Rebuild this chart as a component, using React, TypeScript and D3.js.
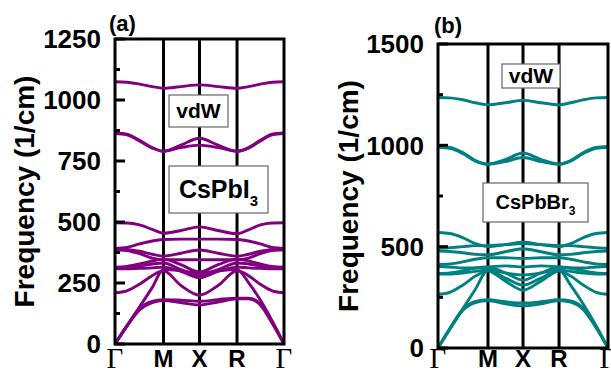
import React from "react";
import * as d3 from "d3";

// k-path sample positions (fraction of the path) for each panel
const kPathA = [0, 0.07, 0.145, 0.22, 0.287, 0.39, 0.5, 0.61, 0.722, 0.79, 0.86, 0.93, 1];
const kPathB = [0, 0.07, 0.145, 0.22, 0.294, 0.397, 0.5, 0.606, 0.712, 0.78, 0.856, 0.93, 1];

const symLabels = ["Γ", "M", "X", "R", "Γ"];
const symPosA = [0, 0.287, 0.5, 0.722, 1];
const symPosB = [0, 0.294, 0.5, 0.712, 1];

const majorTicksA = [0, 250, 500, 750, 1000, 1250];
const minorTicksA = [125, 375, 625, 875, 1125];
const majorTicksB = [0, 500, 1000, 1500];
const minorTicksB = [250, 750, 1250];

// CsPbI3 phonon bands (1/cm)
const bandsCsPbI3 = [
  [1075, 1073, 1065, 1055, 1048, 1055, 1062, 1055, 1048, 1055, 1065, 1073, 1075],
  [865, 860, 835, 805, 790, 815, 843, 815, 790, 805, 835, 860, 865],
  [862, 857, 832, 803, 790, 805, 815, 805, 790, 803, 832, 857, 862],
  [497, 496, 488, 470, 454, 465, 480, 465, 452, 468, 488, 496, 497],
  [392, 396, 410, 422, 428, 430, 430, 430, 428, 422, 410, 396, 392],
  [390, 388, 380, 368, 360, 372, 385, 372, 360, 368, 380, 388, 390],
  [386, 383, 370, 352, 345, 345, 345, 345, 345, 352, 370, 383, 386],
  [315, 318, 328, 340, 348, 325, 295, 325, 348, 340, 328, 318, 315],
  [312, 314, 320, 328, 332, 305, 282, 305, 332, 328, 320, 314, 312],
  [308, 308, 310, 312, 315, 298, 272, 298, 315, 312, 310, 308, 308],
  [210, 218, 245, 280, 300, 240, 200, 240, 300, 280, 245, 218, 210],
  [0, 74, 152, 231, 305, 300, 290, 300, 305, 252, 180, 95, 0],
  [0, 74, 145, 175, 182, 180, 175, 182, 188, 188, 165, 90, 0],
  [0, 72, 140, 170, 178, 170, 160, 172, 185, 185, 160, 85, 0],
];

// CsPbBr3 phonon bands (1/cm)
const bandsCsPbBr3 = [
  [1236, 1234, 1225, 1210, 1200, 1210, 1222, 1210, 1200, 1210, 1225, 1234, 1236],
  [995, 990, 965, 925, 908, 930, 962, 930, 908, 925, 965, 990, 995],
  [990, 985, 960, 922, 906, 920, 940, 920, 906, 922, 960, 985, 990],
  [570, 565, 545, 515, 500, 510, 522, 510, 500, 515, 545, 565, 570],
  [492, 495, 500, 505, 505, 510, 515, 510, 505, 505, 500, 495, 492],
  [478, 476, 470, 462, 460, 475, 490, 475, 460, 462, 470, 476, 478],
  [412, 415, 425, 438, 445, 445, 442, 445, 445, 438, 425, 415, 412],
  [402, 400, 395, 395, 400, 405, 400, 405, 400, 395, 395, 400, 402],
  [367, 370, 380, 395, 400, 370, 335, 370, 400, 395, 380, 370, 367],
  [365, 365, 370, 378, 385, 345, 310, 345, 385, 378, 370, 365, 365],
  [265, 275, 310, 355, 380, 330, 285, 330, 380, 355, 310, 275, 265],
  [0, 93, 192, 290, 385, 370, 360, 370, 385, 310, 215, 110, 0],
  [0, 97, 190, 230, 238, 228, 222, 228, 238, 232, 195, 105, 0],
  [0, 95, 185, 224, 234, 218, 208, 218, 234, 226, 188, 100, 0],
];

const sans = "Arial, 'Liberation Sans', Helvetica, sans-serif";
const serif = "'Times New Roman', 'Liberation Serif', serif";

type Box = { x: number; y: number; w: number; h: number; label: string; sub?: string; size: number; base: number };

type PanelProps = {
  x0: number; x1: number; yTop: number; yBot: number; yMax: number;
  majors: number[]; minors: number[]; kPath: number[]; symPos: number[];
  bands: number[][]; color: string; letter: string; letterX: number; letterY: number;
  titleX: number; boxes: Box[];
};

function Panel(p: PanelProps) {
  const x = d3.scaleLinear().domain([0, 1]).range([p.x0, p.x1]);
  const y = d3.scaleLinear().domain([0, p.yMax]).range([p.yBot, p.yTop]);
  const line = d3
    .line<number>()
    .x((_, i) => x(p.kPath[i]))
    .y((d) => y(d))
    .curve(d3.curveMonotoneX);
  const midY = (p.yTop + p.yBot) / 2;

  return (
    <g>
      {/* vertical high-symmetry lines */}
      {p.symPos.slice(1, -1).map((s, i) => (
        <line key={i} x1={x(s)} x2={x(s)} y1={p.yTop} y2={p.yBot} stroke="#000" strokeWidth={3} />
      ))}
      {/* bands */}
      {p.bands.map((b, i) => (
        <path key={i} d={line(b) || ""} fill="none" stroke={p.color} strokeWidth={2.9} />
      ))}
      {/* ticks */}
      {p.majors.map((t) => (
        <line key={"M" + t} x1={p.x0} x2={p.x0 + 10} y1={y(t)} y2={y(t)} stroke="#000" strokeWidth={3} />
      ))}
      {p.minors.map((t) => (
        <line key={"m" + t} x1={p.x0} x2={p.x0 + 5} y1={y(t)} y2={y(t)} stroke="#000" strokeWidth={3} />
      ))}
      {/* frame */}
      <rect x={p.x0} y={p.yTop} width={p.x1 - p.x0} height={p.yBot - p.yTop} fill="none" stroke="#000" strokeWidth={3} />
      {/* tick labels */}
      {p.majors.map((t) => (
        <text key={"l" + t} x={p.x0 - 14} y={y(t)} dy="0.36em" textAnchor="end" fontFamily={sans} fontWeight="bold" fontSize={26} fill="#000">
          {t}
        </text>
      ))}
      {/* k labels */}
      {p.symPos.map((s, i) =>
        symLabels[i] === "Γ" ? (
          <text key={"k" + i} x={x(s)} y={368} textAnchor="middle" fontFamily={serif} fontSize={29} fill="#000">
            Γ
          </text>
        ) : (
          <text key={"k" + i} x={x(s)} y={367} textAnchor="middle" fontFamily={sans} fontWeight="bold" fontSize={24} fill="#000">
            {symLabels[i]}
          </text>
        )
      )}
      {/* axis title */}
      <text
        transform={`translate(${p.titleX},${midY}) rotate(-90)`}
        textAnchor="middle"
        dy="0.36em"
        fontFamily={sans}
        fontWeight="bold"
        fontSize={28}
        fill="#000"
      >
        Frequency (1/cm)
      </text>
      <text x={p.letterX} y={p.letterY} fontFamily={sans} fontWeight="bold" fontSize={22} fill="#000">
        {p.letter}
      </text>
      {/* annotation boxes */}
      {p.boxes.map((b, i) => (
        <g key={"b" + i}>
          <rect x={b.x} y={b.y} width={b.w} height={b.h} fill="#fff" stroke="#666" strokeWidth={1.2} />
          <text x={b.x + b.w / 2} y={b.base} textAnchor="middle" fontFamily={sans} fontWeight="bold" fontSize={b.size} fill="#000">
            {b.label}
            {b.sub && (
              <tspan dy={b.size * 0.3} fontSize={b.size * 0.6}>
                {b.sub}
              </tspan>
            )}
          </text>
        </g>
      ))}
    </g>
  );
}

export default function App() {
  return (
    <div style={{ position: "absolute", left: 0, top: 0, width: 611, height: 377, background: "#fff" }}>
      <svg width={611} height={377} style={{ display: "block" }}>
        <rect width={611} height={377} fill="#fff" />
        <Panel
          x0={115} x1={284} yTop={39} yBot={344} yMax={1250}
          majors={majorTicksA} minors={minorTicksA} kPath={kPathA} symPos={symPosA}
          bands={bandsCsPbI3} color="#800080" letter="(a)" letterX={109} letterY={31}
          titleX={24}
          boxes={[
            { x: 169, y: 95, w: 59, h: 32, label: "vdW", size: 21, base: 118 },
            { x: 169, y: 166, w: 99, h: 47, label: "CsPbI", sub: "3", size: 25, base: 198 },
          ]}
        />
        <Panel
          x0={438} x1={608} yTop={44} yBot={348} yMax={1500}
          majors={majorTicksB} minors={minorTicksB} kPath={kPathB} symPos={symPosB}
          bands={bandsCsPbBr3} color="#008080" letter="(b)" letterX={434} letterY={33}
          titleX={348}
          boxes={[
            { x: 502, y: 64, w: 58, h: 24, label: "vdW", size: 21, base: 83 },
            { x: 483, y: 183, w: 105, h: 39, label: "CsPbBr", sub: "3", size: 20, base: 209 },
          ]}
        />
      </svg>
    </div>
  );
}
